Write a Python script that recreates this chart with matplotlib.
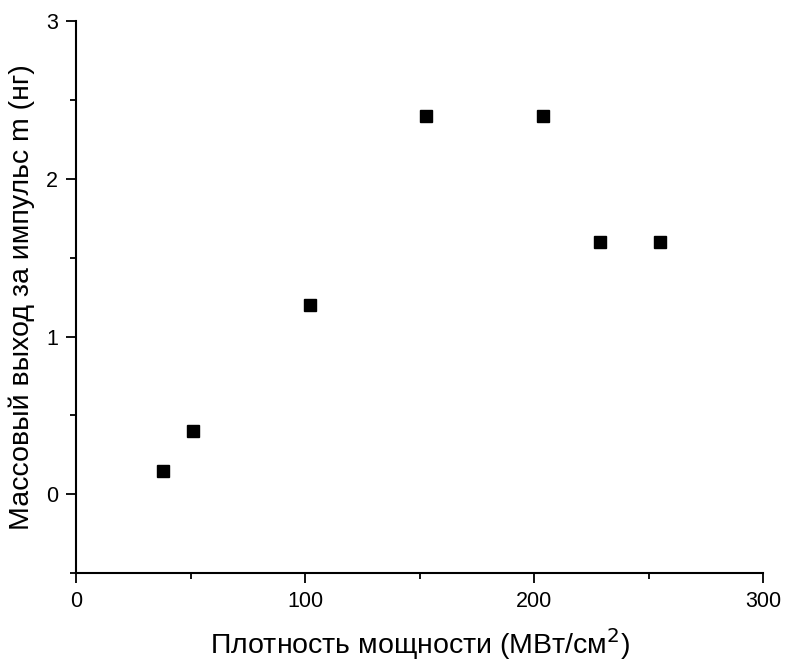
import numpy as np
import matplotlib
matplotlib.use("Agg")
import matplotlib.pyplot as plt
from matplotlib.ticker import MultipleLocator

plt.rcParams['font.family'] = ['Liberation Sans', 'DejaVu Sans']

# значения с графика
power_density = [38, 51, 102, 153, 204, 229, 255]
mass_yield = [0.15, 0.40, 1.20, 2.40, 2.40, 1.60, 1.60]


def main():
    fig = plt.figure(figsize=(7.85, 6.61), dpi=100)
    ax = fig.add_axes([0.097, 0.133, 0.875, 0.835])

    ax.plot(power_density, mass_yield, 's', color='black', markersize=8, linestyle='none')

    ax.set_xlim(0, 300)
    ax.set_ylim(-0.5, 3)
    ax.xaxis.set_major_locator(MultipleLocator(100))
    ax.xaxis.set_minor_locator(MultipleLocator(50))
    ax.yaxis.set_major_locator(MultipleLocator(1))
    ax.yaxis.set_minor_locator(MultipleLocator(0.5))

    for side in ['top', 'right']:
        ax.spines[side].set_visible(False)
    for side in ['left', 'bottom']:
        ax.spines[side].set_linewidth(1.5)

    ax.tick_params(which='major', direction='out', length=7, width=1.3, labelsize=15.5, pad=6)
    ax.tick_params(which='minor', direction='out', length=4, width=1.3)

    ax.set_xlabel('Плотность мощности (МВт/см$^2$)', fontsize=20.5, labelpad=10)
    ax.set_ylabel('Массовый выход за импульс m (нг)', fontsize=20.5, labelpad=8)

    fig.savefig('out.png', dpi=100)


if __name__ == "__main__":
    main()
